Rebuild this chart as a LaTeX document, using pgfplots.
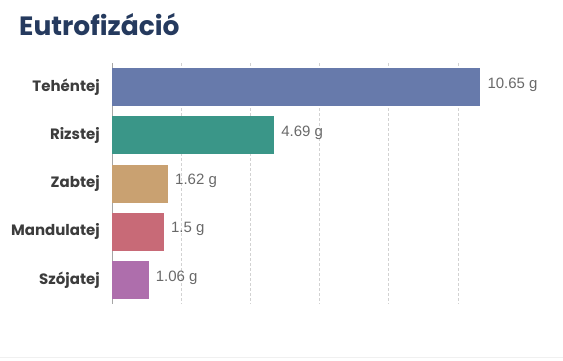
\documentclass[border=0pt]{standalone}
\usepackage{pgfplots}
\pgfplotsset{compat=1.18}
\usepackage{fontspec}
\setmainfont{Poppins}
\newfontfamily\valfont{Liberation Sans}
\definecolor{c1}{RGB}{103,122,171}
\definecolor{c2}{RGB}{58,150,136}
\definecolor{c3}{RGB}{201,161,113}
\definecolor{c4}{RGB}{200,106,119}
\definecolor{c5}{RGB}{174,110,172}
\definecolor{titlec}{RGB}{37,58,94}
\definecolor{labc}{RGB}{60,60,60}
\definecolor{valc}{RGB}{105,105,105}
\begin{document}
\begin{tikzpicture}
\path[use as bounding box] (0pt,0pt) rectangle (563pt,360pt);
\draw[gray!12, line width=1pt] (0pt,3pt) -- (563pt,3pt);
\node[anchor=base west, inner sep=0pt, font=\fontsize{26.5}{30}\selectfont\bfseries, text=titlec] at (19pt,325pt) {Eutrofizáció};
\begin{axis}[
  at={(112pt,56pt)}, anchor=south west, scale only axis,
  width=415pt, height=241pt,
  xmin=0, xmax=12, ymin=-0.5, ymax=4.5, y dir=reverse,
  xbar, bar width=38pt, bar shift=0pt,
  axis line style={draw=none},
  major tick length=0pt,
  xtick={2,4,6,8,10}, xticklabels={},
  xmajorgrids, grid style={densely dashed, gray!35, line width=0.6pt},
  extra x ticks={0}, extra x tick labels={},
  extra x tick style={grid style={solid, gray!70, line width=0.6pt}},
  ytick={0,1,2,3,4},
  yticklabels={Tehéntej,Rizstej,Zabtej,Mandulatej,Szójatej},
  yticklabel style={font=\fontsize{15}{17}\selectfont\bfseries, text=labc, inner sep=0pt, xshift=-12pt},
  /pgf/number format/assume math mode=true,
  nodes near coords={\pgfmathprintnumber[fixed,precision=2,assume math mode=true]{\pgfplotspointmeta} g},
  nodes near coords style={font=\valfont\fontsize{15}{17}\selectfont, text=valc, anchor=west, inner sep=0pt, xshift=7pt, yshift=2.5pt},
]
\addplot[fill=c1, draw=none] coordinates {(10.65,0)};
\addplot[fill=c2, draw=none] coordinates {(4.69,1)};
\addplot[fill=c3, draw=none] coordinates {(1.62,2)};
\addplot[fill=c4, draw=none] coordinates {(1.5,3)};
\addplot[fill=c5, draw=none] coordinates {(1.06,4)};
\end{axis}
\end{tikzpicture}
\end{document}
